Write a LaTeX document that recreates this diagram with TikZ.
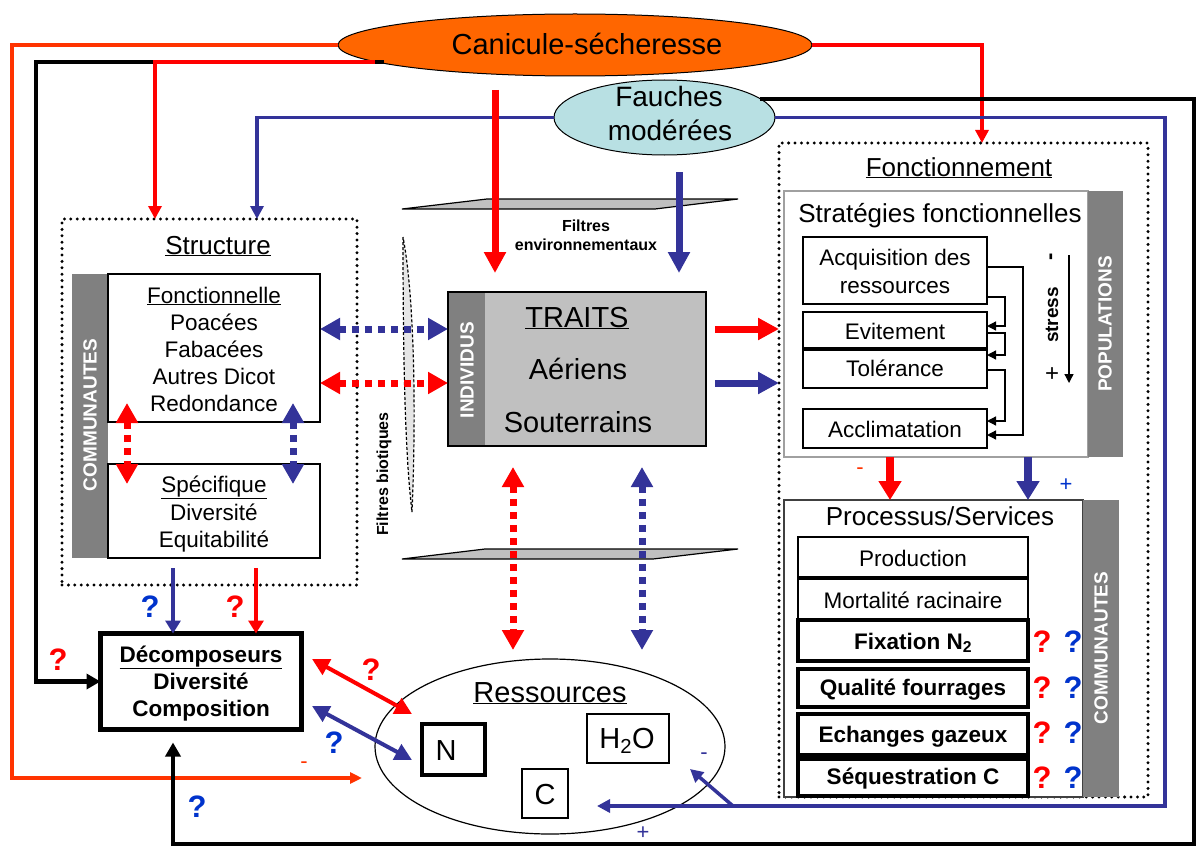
\documentclass[tikz,border=0pt]{standalone}
\usepackage{fontspec}
\setmainfont{Liberation Sans}
\usetikzlibrary{arrows.meta,shapes.geometric}
\definecolor{myred}{HTML}{FF0000}
\definecolor{myblue}{HTML}{333399}
\definecolor{qblue}{HTML}{0033CC}
\definecolor{orline}{HTML}{FF3300}
\definecolor{orfill}{HTML}{FF6600}
\definecolor{cyfill}{HTML}{B8E0E3}
\definecolor{bargray}{HTML}{808080}
\definecolor{traitgray}{HTML}{C0C0C0}
\definecolor{lensgray}{HTML}{E6E6E6}
\definecolor{stratgray}{HTML}{A0A0A0}
\begin{document}
\begin{tikzpicture}[x=1pt,y=-1pt,
 every node/.style={inner sep=0pt,outer sep=0pt},
 fA/.style={font=\fontsize{22.5}{27}\selectfont},
 fAb/.style={font=\bfseries\fontsize{22.5}{27}\selectfont},
 fT/.style={font=\fontsize{26}{30}\selectfont},
 fB/.style={font=\fontsize{29}{34}\selectfont},
 fS/.style={font=\bfseries\fontsize{16}{19}\selectfont},
 fQ/.style={font=\bfseries\fontsize{31}{31}\selectfont},
 fPM/.style={font=\fontsize{22}{22}\selectfont},
 rbox/.style={draw,line width=1.2pt,fill=white,anchor=north west},
 tbox/.style={draw,line width=3.6pt,fill=white,anchor=north west},
 gbar/.style={fill=bargray,anchor=north west},
 bartxt/.style={rotate=90,text=white,font=\bfseries\fontsize{19}{19}\selectfont},
 dotbox/.style={draw,line width=3.3pt,dash pattern=on 0pt off 6.4pt,line cap=round,anchor=north west},
 oline/.style={draw=orline,line width=3.5pt,-{Triangle[width=11pt,length=12pt]}},
 kline/.style={draw=black,line width=4.5pt,-{Triangle[width=15pt,length=14pt]}},
 rline/.style={draw=myred,line width=3.2pt,-{Triangle[width=13pt,length=13pt]}},
 bline/.style={draw=myblue,line width=3.5pt,-{Triangle[width=13pt,length=13pt]}},
 bigred/.style={draw=myred,line width=7pt,-{Triangle[width=21pt,length=21pt]}},
 bigblue/.style={draw=myblue,line width=7pt,-{Triangle[width=21pt,length=21pt]}},
 midred/.style={draw=myred,line width=8pt,-{Triangle[width=22pt,length=19pt]}},
 midblue/.style={draw=myblue,line width=8pt,-{Triangle[width=22pt,length=19pt]}},
 dotred/.style={draw=myred,line width=7pt,dash pattern=on 7pt off 6pt,{Triangle[width=21pt,length=20pt]}-{Triangle[width=21pt,length=20pt]}},
 dotblue/.style={draw=myblue,line width=7pt,dash pattern=on 7pt off 6pt,{Triangle[width=21pt,length=20pt]}-{Triangle[width=21pt,length=20pt]}},
 tred/.style={draw=myred,line width=3.5pt,-{Triangle[width=15pt,length=13pt]}},
 tblue/.style={draw=myblue,line width=3.5pt,-{Triangle[width=15pt,length=13pt]}},
 dred/.style={draw=myred,line width=4pt,{Triangle[width=17pt,length=17pt]}-{Triangle[width=17pt,length=17pt]}},
 dblue/.style={draw=myblue,line width=4pt,{Triangle[width=17pt,length=17pt]}-{Triangle[width=17pt,length=17pt]}},
 sconn/.style={draw=black,line width=1.3pt,-{Triangle[width=9pt,length=9pt]}},
 qr/.style={fQ,text=myred},
 qb/.style={fQ,text=qblue},
]
\useasboundingbox (0,0) rectangle (1196,848);

% ---------- drivers ----------
\node[ellipse,draw,line width=1pt,fill=orfill,minimum width=474pt,minimum height=62pt] (can) at (575,45) {};
\node[fB,anchor=base] (cantxt) at (587,55) {Canicule-sécheresse};
\node[ellipse,draw,line width=1pt,fill=cyfill,minimum width=221pt,minimum height=75pt] (fau) at (664.5,117.5) {};
\node[anchor=base,font=\fontsize{28}{34}\selectfont] (fau1) at (669,107) {Fauches};
\node[anchor=base,font=\fontsize{28}{34}\selectfont] (fau2) at (670,140) {modérées};

% ---------- dotted frames ----------
\node[dotbox,minimum width=295pt,minimum height=366pt] (struc) at (62,219) {};
\node[dotbox,minimum width=369pt,minimum height=654pt] (fct) at (779,143) {};

% ---------- Structure ----------
\node[fT,anchor=base] (structt) at (218,254) {\underline{Structure}};
\node[gbar,minimum width=36pt,minimum height=284pt] (cbar1) at (72,274) {};
\node[bartxt] (cbar1t) at (90,415) {COMMUNAUTES};
\node[rbox,minimum width=212pt,minimum height=148pt] (fon) at (108,274) {};
\node[rbox,minimum width=212pt,minimum height=94pt] (spe) at (108,464) {};
\node[fA,anchor=base] (fon1) at (214,303) {\underline{Fonctionnelle}};
\node[fA,anchor=base] (fon2) at (214,330) {Poacées};
\node[fA,anchor=base] (fon3) at (214,357) {Fabacées};
\node[fA,anchor=base] (fon4) at (214,384) {Autres Dicot};
\node[fA,anchor=base] (fon5) at (214,411) {Redondance};
\node[fA,anchor=base] (spe1) at (214,492) {\underline{Spécifique}};
\node[fA,anchor=base] (spe2) at (214,520) {Diversité};
\node[fA,anchor=base] (spe3) at (214,547) {Equitabilité};

% ---------- filters ----------
\draw[fill=traitgray,line width=1.2pt] (402,209) -- (487,199) -- (738,199) -- (655,209) -- cycle;
\draw[fill=traitgray,line width=1.2pt] (402,559) -- (485,549) -- (738,549) -- (653,559) -- cycle;
\draw[fill=lensgray,line width=1.2pt,dash pattern=on 3pt off 2pt] (403,237) .. controls (403,400) and (407,470) .. (412,512) .. controls (416,420) and (415,300) .. (403,237);
\node[fS,anchor=base] (fe1) at (586,231) {Filtres};
\node[fS,anchor=base] (fe2) at (586,250) {environnementaux};
\node[fS,rotate=90] (fbio) at (384,474) {Filtres biotiques};

% ---------- TRAITS ----------
\node[draw,line width=1.3pt,fill=traitgray,anchor=north west,minimum width=258pt,minimum height=154pt] (trait) at (448,292) {};
\node[gbar,minimum width=37pt,minimum height=154pt] (indbar) at (448,292) {};
\draw[line width=1.3pt] (trait.north west) rectangle (trait.south east);
\node[bartxt] (indt) at (467,370) {INDIVIDUS};
\node[fB,anchor=base] (tr1) at (577,327) {\underline{TRAITS}};
\node[fB,anchor=base] (tr2) at (578,379) {Aériens};
\node[fB,anchor=base] (tr3) at (578,432) {Souterrains};

% ---------- Fonctionnement ----------
\node[fT,anchor=base] (fctt) at (959,176) {\underline{Fonctionnement}};
\node[draw=stratgray,line width=1.5pt,fill=white,anchor=north west,minimum width=304pt,minimum height=266pt] (strat) at (784,191) {};
\node[gbar,minimum width=35pt,minimum height=266pt] (popbar) at (1088,191) {};
\node[bartxt] (popt) at (1105,324) {POPULATIONS};
\node[fT,anchor=base] (stratt) at (940,222) {Stratégies fonctionnelles};
\node[rbox,minimum width=184pt,minimum height=67pt] (acq) at (803,237) {};
\node[rbox,minimum width=184pt,minimum height=36pt] (evit) at (803,312) {};
\node[rbox,minimum width=184pt,minimum height=38pt] (tol) at (803,350) {};
\node[rbox,minimum width=184pt,minimum height=39pt] (accl) at (803,409) {};
\node[fA,anchor=base] (acq1) at (895,265) {Acquisition des};
\node[fA,anchor=base] (acq2) at (895,293) {ressources};
\node[fA,anchor=base] (evt) at (895,339) {Evitement};
\node[fA,anchor=base] (tolt) at (895,376) {Tolérance};
\node[fA,anchor=base] (acct) at (895,437) {Acclimatation};
\draw[sconn] (acq.east |- 0,267) -| (1023,435) -- (accl.east |- 0,435);
\draw[sconn] (acq.east |- 0,297) -| (1005,326) -- (evit.east |- 0,326);
\draw[sconn] (evit.east |- 0,333) -| (1005,355) -- (tol.east |- 0,355);
\draw[sconn] (tol.east |- 0,370) -| (1005,421) -- (accl.east |- 0,421);
\coordinate (st1) at (1069,255);
\coordinate (st2) at (1069,383);
\draw[sconn] (st1) -- (st2);
\node[rotate=90,font=\bfseries\fontsize{19}{19}\selectfont] (stresst) at (1052,315) {stress};
\node[rotate=90,font=\bfseries\fontsize{22}{22}\selectfont] (sminus) at (1053,257) {-};
\node[font=\fontsize{24}{24}\selectfont] (splus) at (1052,375) {+};

\node[draw=black!75,line width=1.2pt,fill=white,anchor=north west,minimum width=299pt,minimum height=297pt] (proc) at (784,500) {};
\node[gbar,minimum width=36pt,minimum height=297pt] (cbar2) at (1083,500) {};
\node[bartxt] (cbar2t) at (1101,648) {COMMUNAUTES};
\node[fT,anchor=base] (proct) at (940,525) {Processus/Services};
\node[rbox,minimum width=230pt,minimum height=40pt] (prod) at (798,537) {};
\node[rbox,minimum width=230pt,minimum height=40pt] (mort) at (798,579) {};
\node[tbox,minimum width=230pt,minimum height=41pt] (fix) at (798,620) {};
\node[tbox,minimum width=230pt,minimum height=38pt] (qual) at (798,669) {};
\node[tbox,minimum width=230pt,minimum height=41pt] (ech) at (798,714) {};
\node[tbox,minimum width=230pt,minimum height=37pt] (seq) at (798,759) {};
\node[fA,anchor=base] (prodt) at (913,566) {Production};
\node[fA,anchor=base] (mortt) at (913,608) {Mortalité racinaire};
\node[fAb,anchor=base] (fixt) at (913,649) {Fixation N\textsubscript{2}};
\node[fAb,anchor=base] (qualt) at (913,695) {Qualité fourrages};
\node[fAb,anchor=base] (echt) at (913,742) {Echanges gazeux};
\node[fAb,anchor=base] (seqt) at (913,784) {Séquestration C};
\node[qr] (q1r) at (1042,642) {?};
\node[qb] (q1b) at (1073,642) {?};
\node[qr] (q2r) at (1042,688) {?};
\node[qb] (q2b) at (1073,688) {?};
\node[qr] (q3r) at (1042,733) {?};
\node[qb] (q3b) at (1073,733) {?};
\node[qr] (q4r) at (1042,778) {?};
\node[qb] (q4b) at (1073,778) {?};

% ---------- Decomposeurs ----------
\node[draw,line width=5pt,fill=white,anchor=north west,minimum width=201pt,minimum height=96pt] (dec) at (100.5,633.5) {};
\node[fAb,anchor=base] (dec1) at (201,662) {\underline{Décomposeurs}};
\node[fAb,anchor=base] (dec2) at (201,689) {Diversité};
\node[fAb,anchor=base] (dec3) at (201,716) {Composition};

% ---------- Ressources ----------
\node[ellipse,draw,line width=1.2pt,minimum width=350pt,minimum height=175pt] (res) at (550,746.5) {};
\node[fB,anchor=base] (rest) at (550,702) {\underline{Ressources}};
\node[draw,line width=4.5pt,fill=white,anchor=north west,minimum width=63pt,minimum height=51pt] (nbox) at (422,724) {};
\node[fB,anchor=base] (nt) at (446,760) {N};
\node[rbox,minimum width=82pt,minimum height=49pt] (hbox) at (587,714) {};
\node[fB,anchor=base] (ht) at (627,748) {H\textsubscript{2}O};
\node[rbox,minimum width=46pt,minimum height=49pt] (cbox) at (522,769) {};
\node[fB,anchor=base] (ct) at (545,804) {C};

% ---------- outer connectors ----------
\coordinate (o1) at (12,778);
\coordinate (oend) at (362,778);
\draw[oline] (can.west) -| (o1) -- (oend);
\coordinate (k0) at (384,62);
\coordinate (k1) at (36,62);
\draw[kline] (k0) -- (k1) |- (dec.west);
\coordinate (r0) at (375,62);
\coordinate (r1) at (155,62);
\draw[rline] (r0) -- (r1) -- (r1 |- struc.north);
\coordinate (b1) at (257,117);
\draw[bline] (fau.west) -| (b1 |- struc.north);
\coordinate (r2) at (982,45);
\draw[rline] (can.east) -| (r2 |- fct.north);
\coordinate (k2) at (1194,844);
\coordinate (k3) at (173,844);
\draw[kline,shorten >=13pt] (fau.11) -| (k2) -- (k3) -- (k3 |- dec.south);
\coordinate (b2) at (1165,806);
\coordinate (b3) at (597,806);
\draw[bline] (fau.east) -| (b2) -- (b3);
\coordinate (b4) at (733,806);
\coordinate (b5) at (690,769);
\draw[bline] (b4) -- (b5);

% ---------- filter arrows ----------
\coordinate (R0) at (495,90);
\draw[bigred,shorten >=19pt] (R0) -- (R0 |- trait.north);
\coordinate (B0) at (679,172);
\draw[bigblue,shorten >=19pt] (B0) -- (B0 |- trait.north);
\coordinate (h1) at (0,329);
\coordinate (h2) at (0,383);
\draw[bigred,shorten <=9pt] (trait.east |- h1) -- (fct.west |- h1);
\draw[bigblue,shorten <=9pt] (trait.east |- h2) -- (fct.west |- h2);
\draw[dotblue] (fon.east |- h1) -- (trait.west |- h1);
\draw[dotred] (fon.east |- h2) -- (trait.west |- h2);
\coordinate (v1) at (127,403);
\coordinate (v2) at (127,484);
\draw[dotred] (v1) -- (v2);
\coordinate (v3) at (293,403);
\coordinate (v4) at (293,484);
\draw[dotblue] (v3) -- (v4);
\coordinate (w1) at (513,467);
\coordinate (w2) at (513,650);
\draw[dotred] (w1) -- (w2);
\coordinate (w3) at (642,467);
\coordinate (w4) at (642,650);
\draw[dotblue] (w3) -- (w4);
\coordinate (p1) at (890,0);
\coordinate (p2) at (1028,0);
\draw[midred] (p1 |- strat.south) -- (p1 |- proc.north);
\draw[midblue] (p2 |- strat.south) -- (p2 |- proc.north);

% ---------- decomposer links ----------
\coordinate (d1) at (173,568);
\coordinate (d2) at (256,568);
\draw[tblue] (d1) -- (d1 |- dec.north);
\draw[tred] (d2) -- (d2 |- dec.north);
\coordinate (e1) at (312,659);
\coordinate (e2) at (412,714);
\coordinate (e3) at (312,706);
\coordinate (e4) at (412,760);
\draw[dred] (e1) -- (e2);
\draw[dblue] (e3) -- (e4);

% ---------- labels ----------
\node[qb] (qa) at (150,607) {?};
\node[qr] (qb1) at (235,607) {?};
\node[qr] (qc) at (58,660) {?};
\node[qr] (qd) at (371,670) {?};
\node[qb] (qe) at (334,743) {?};
\node[qb] (qf) at (197,807) {?};
\node[fPM,text=orline] (om) at (304,765) {-};
\node[fPM,text=orline] (pm1) at (860,471) {-};
\node[fPM,text=qblue] (pm2) at (1066,485) {+};
\node[fPM,text=myblue] (pm3) at (704,756) {-};
\node[fPM,text=myblue] (pm4) at (643,833) {+};
\end{tikzpicture}
\end{document}
